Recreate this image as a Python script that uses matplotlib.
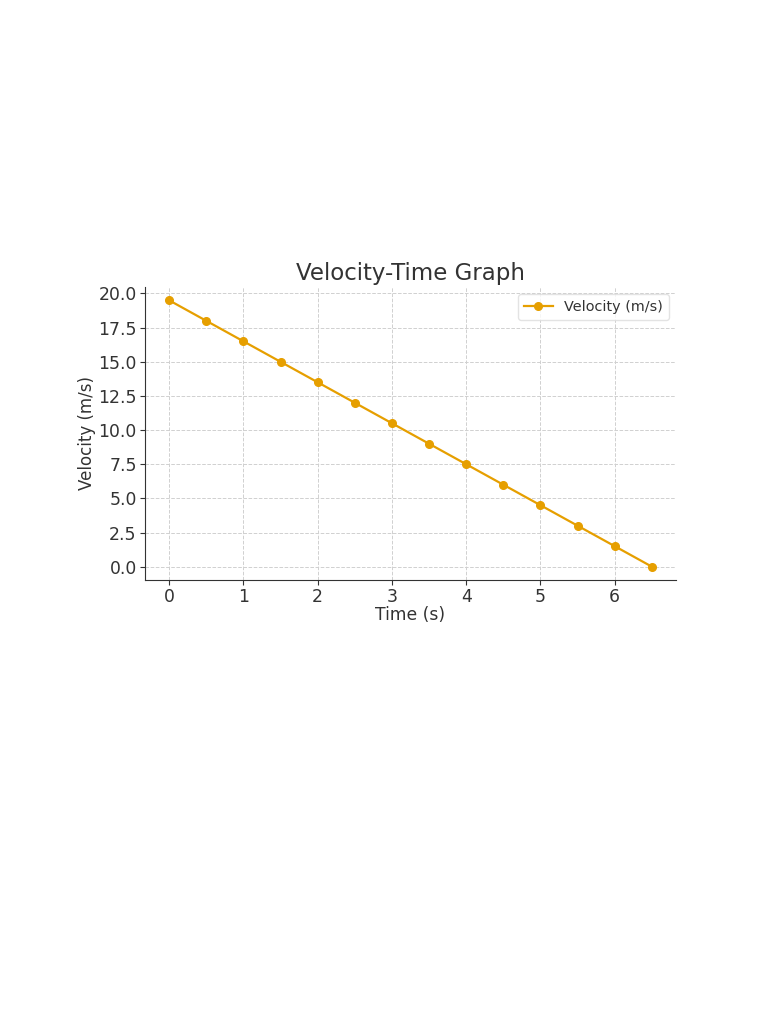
import matplotlib.pyplot as plt
from matplotlib.ticker import MultipleLocator, FormatStrFormatter

time_s = [0, 0.5, 1, 1.5, 2, 2.5, 3, 3.5, 4, 4.5, 5, 5.5, 6, 6.5]
velocity = [19.5, 18.0, 16.5, 15.0, 13.5, 12.0, 10.5, 9.0, 7.5, 6.0, 4.5, 3.0, 1.5, 0.0]

text_color = '#333333'
plt.rcParams['text.color'] = text_color
plt.rcParams['axes.labelcolor'] = text_color
plt.rcParams['xtick.color'] = text_color
plt.rcParams['ytick.color'] = text_color

fig = plt.figure(figsize=(7.68, 10.24), dpi=100)
ax = fig.add_axes([145 / 768, 1 - 580 / 1024, 531 / 768, 293 / 1024])

ax.plot(time_s, velocity, color='#E69F00', marker='o', markersize=5.5,
        linewidth=1.6, label='Velocity (m/s)')

ax.set_title('Velocity-Time Graph', fontsize=16.5, color=text_color, pad=5)
ax.set_xlabel('Time (s)', fontsize=12.3, labelpad=0)
ax.set_ylabel('Velocity (m/s)', fontsize=12, labelpad=1.5)
ax.yaxis.set_major_locator(MultipleLocator(2.5))
ax.yaxis.set_major_formatter(FormatStrFormatter('%.1f'))
ax.xaxis.set_major_locator(MultipleLocator(1))
ax.tick_params(labelsize=12.4, length=3.5, width=0.8, pad=2.5)

ax.grid(True, linestyle='--', color='#d0d0d0', linewidth=0.7)
ax.set_axisbelow(True)
for side in ['top', 'right']:
    ax.spines[side].set_visible(False)
for side in ['left', 'bottom']:
    ax.spines[side].set_color('#333333')

leg = ax.legend(loc='upper right', fontsize=10.4, frameon=True)
leg.get_frame().set_edgecolor('#dddddd')

fig.savefig('out.png', dpi=100)
